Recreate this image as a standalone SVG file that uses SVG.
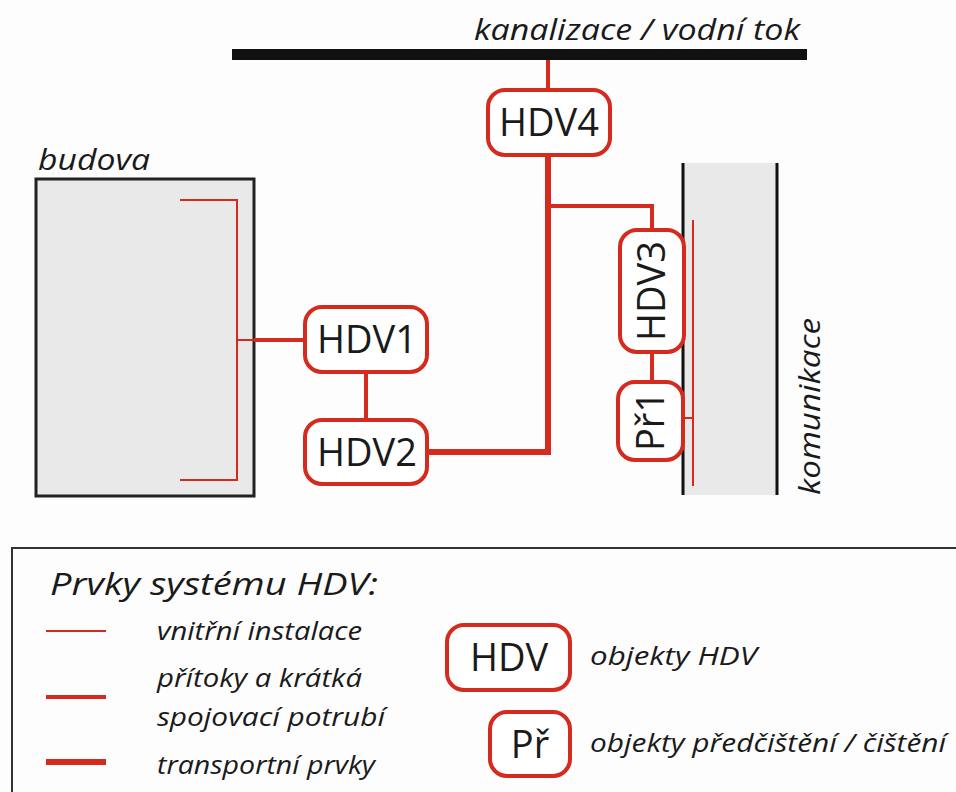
<svg xmlns="http://www.w3.org/2000/svg" width="956" height="792" viewBox="0 0 956 792">
<style>
.it{font-family:"Open Sans","Noto Sans",sans-serif;font-style:italic;fill:#1a1a1a}
.lbl{font-family:"Open Sans","Noto Sans",sans-serif;fill:#1a1a1a;font-size:38px}
.box{fill:#fff;stroke:#d52b1e;stroke-width:4}
.thin{stroke:#d52b1e;stroke-width:2;fill:none}
.med{stroke:#d52b1e;stroke-width:4;fill:none}
.thick{stroke:#d52b1e;stroke-width:6;fill:none}
</style>
<rect width="956" height="792" fill="#fdfdfd"/>
<g id="kanalizace">
<rect x="232" y="49" width="575" height="11" fill="#111"/>
<text class="it" x="474" y="40" font-size="30" textLength="326" lengthAdjust="spacingAndGlyphs">kanalizace / vodní tok</text>
</g>
<g id="budova">
<rect x="36" y="179" width="218" height="317" fill="#e9e9e9" stroke="#222" stroke-width="3"/>
<text class="it" x="38" y="170" font-size="30" textLength="112" lengthAdjust="spacingAndGlyphs">budova</text>
<polyline class="thin" points="180,200 237,200 237,480 180,480"/>
<line class="thin" x1="237" y1="340" x2="254" y2="340"/>
</g>
<g id="komunikace">
<rect x="683" y="163" width="94" height="332" fill="#e9e9e9"/>
<line x1="683" y1="163" x2="683" y2="495" stroke="#111" stroke-width="3"/>
<line x1="777" y1="163" x2="777" y2="495" stroke="#111" stroke-width="3"/>
<line class="thin" x1="693" y1="220" x2="693" y2="486"/>
<line class="thin" x1="683" y1="418" x2="693" y2="418"/>
<text class="it" transform="translate(820,495) rotate(-90)" font-size="30" textLength="177" lengthAdjust="spacingAndGlyphs">komunikace</text>
</g>
<g id="connectors">
<line class="med" x1="548" y1="60" x2="548" y2="90"/>
<polyline class="thick" points="427,452 548,452 548,155"/>
<polyline class="med" points="548,206 652,206 652,230"/>
<line class="med" x1="254" y1="340" x2="305" y2="340"/>
<line class="med" x1="366" y1="372" x2="366" y2="420"/>
<line class="med" x1="652" y1="352" x2="652" y2="382"/>
</g>
<g id="HDV4">
<rect class="box" x="488" y="90" width="122" height="65" rx="17"/>
<text class="lbl" x="549" y="136" text-anchor="middle">HDV4</text>
</g>
<g id="HDV1">
<rect class="box" x="305" y="307" width="122" height="65" rx="17"/>
<text class="lbl" x="367" y="353" text-anchor="middle">HDV1</text>
</g>
<g id="HDV2">
<rect class="box" x="305" y="420" width="122" height="64" rx="17"/>
<text class="lbl" x="367" y="466" text-anchor="middle">HDV2</text>
</g>
<g id="HDV3">
<rect class="box" x="620" y="230" width="64" height="122" rx="17"/>
<text class="lbl" transform="translate(665,291) rotate(-90)" text-anchor="middle">HDV3</text>
</g>
<g id="Pr1">
<rect class="box" x="618" y="382" width="65" height="78" rx="17"/>
<text class="lbl" transform="translate(664,421) rotate(-90)" text-anchor="middle">Př1</text>
</g>
<g id="legenda">
<rect x="12" y="548" width="960" height="260" fill="none" stroke="#333" stroke-width="2"/>
<text class="it" x="50" y="595" font-size="31" textLength="328" lengthAdjust="spacingAndGlyphs">Prvky systému HDV:</text>
<line class="thin" x1="46" y1="631" x2="106" y2="631"/>
<line class="med" x1="46" y1="697" x2="106" y2="697"/>
<line class="thick" x1="46" y1="762" x2="106" y2="762"/>
<text class="it" x="157" y="640" font-size="25" textLength="205" lengthAdjust="spacingAndGlyphs">vnitřní instalace</text>
<text class="it" x="157" y="687" font-size="25" textLength="205" lengthAdjust="spacingAndGlyphs">přítoky a krátká</text>
<text class="it" x="157" y="726" font-size="25" textLength="228" lengthAdjust="spacingAndGlyphs">spojovací potrubí</text>
<text class="it" x="157" y="774" font-size="25" textLength="218" lengthAdjust="spacingAndGlyphs">transportní prvky</text>
<rect class="box" x="447" y="625" width="123" height="65" rx="17"/>
<text class="lbl" x="509" y="671" text-anchor="middle">HDV</text>
<text class="it" x="590" y="665" font-size="25" textLength="167" lengthAdjust="spacingAndGlyphs">objekty HDV</text>
<rect class="box" x="490" y="712" width="80" height="64" rx="17"/>
<text class="lbl" x="530" y="758" text-anchor="middle">Př</text>
<text class="it" x="590" y="752" font-size="25" textLength="356" lengthAdjust="spacingAndGlyphs">objekty předčištění / čištění</text>
</g>
</svg>
